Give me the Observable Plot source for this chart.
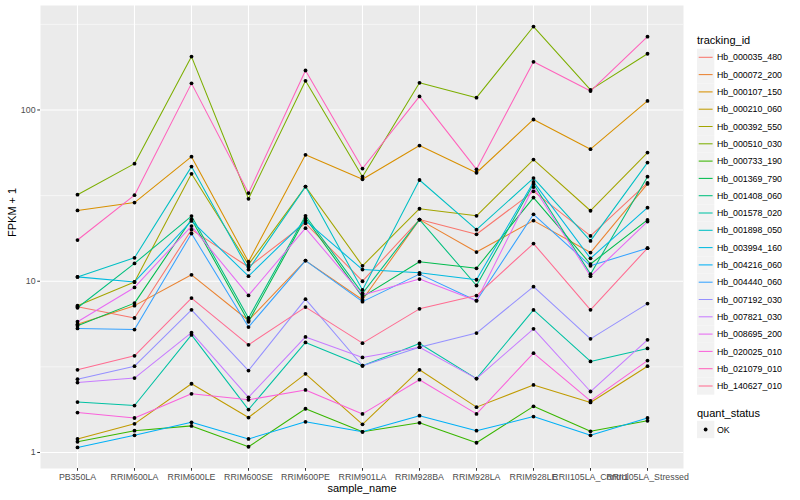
<!DOCTYPE html>
<html><head><meta charset="utf-8">
<script src="https://cdn.jsdelivr.net/npm/d3@7"></script>
<script src="https://cdn.jsdelivr.net/npm/@observablehq/plot@0.6"></script>
<style>
body{margin:0;background:#fff;font-family:"Liberation Sans",Arial,sans-serif;}
#wrap{position:relative;width:800px;height:500px;overflow:hidden;}
#wrap svg{display:block;}
</style></head><body><div id="wrap"></div>
<script>
const samples = ["PB350LA","RRIM600LA","RRIM600LE","RRIM600SE","RRIM600PE","RRIM901LA","RRIM928BA","RRIM928LA","RRIM928LE","RRII105LA_Control","RRII105LA_Stressed"];
const trackingIds = ["Hb_000035_480","Hb_000072_200","Hb_000107_150","Hb_000210_060","Hb_000392_550","Hb_000510_030","Hb_000733_190","Hb_001369_790","Hb_001408_060","Hb_001578_020","Hb_001898_050","Hb_003994_160","Hb_004216_060","Hb_004440_060","Hb_007192_030","Hb_007821_030","Hb_008695_200","Hb_020025_010","Hb_021079_010","Hb_140627_010"];
const palette = ["#F8766D","#EA8331","#D89000","#C09B00","#A3A500","#7CAE00","#39B600","#00BB4E","#00BF7D","#00C1A3","#00BFC4","#00BAE0","#00B0F6","#35A2FF","#9590FF","#C77CFF","#E76BF3","#FA62DB","#FF62BC","#FF6C91"];
const yTicks = [1, 10, 100];
const yMinorTicks = [3.1623, 31.623, 316.23];
const quantStatus = ["OK"];

// FPKM + 1 per sample (order of `samples`)
const Hb_000035_480 = [7.1, 6.1, 20, 12.1, 21.8, 10.0, 22.9, 18.8, 33.5, 18.4, 37.5];
const Hb_000072_200 = [5.6, 7.2, 10.9, 5.9, 13.2, 7.8, 22.9, 14.8, 22.6, 14.7, 37];
const Hb_000107_150 = [25.9, 28.8, 53.4, 13.0, 54.7, 39.4, 62, 43, 88, 59, 113];
const Hb_000210_060 = [1.20, 1.47, 2.52, 1.60, 2.88, 1.46, 3.04, 1.84, 2.48, 1.96, 3.19];
const Hb_000392_550 = [7.2, 9.9, 42.4, 12.5, 35.7, 12.3, 26.5, 24.1, 51.3, 25.8, 56.4];
const Hb_000510_030 = [32, 48.6, 205, 30.3, 148, 40.8, 144, 118, 307, 131, 213];
const Hb_000733_190 = [1.155, 1.34, 1.43, 1.08, 1.80, 1.32, 1.49, 1.14, 1.86, 1.33, 1.53];
const Hb_001369_790 = [5.5, 7.45, 23, 5.8, 23.4, 8.1, 13.0, 11.9, 30.8, 12.6, 22.8];
const Hb_001408_060 = [7.0, 12.7, 24, 6.1, 24.1, 8.5, 22.9, 9.44, 37, 11.0, 40.8];
const Hb_001578_020 = [1.97, 1.88, 4.86, 1.78, 4.39, 3.21, 4.33, 2.7, 6.8, 3.40, 4.05];
const Hb_001898_050 = [10.6, 13.7, 46.7, 11.7, 35.7, 8.9, 39, 20, 40, 17.2, 49.3];
const Hb_003994_160 = [10.6, 9.9, 22.5, 10.7, 22.6, 11.7, 11.2, 10.2, 38, 13.6, 26.9];
const Hb_004216_060 = [1.07, 1.26, 1.50, 1.20, 1.51, 1.32, 1.64, 1.34, 1.62, 1.26, 1.59];
const Hb_004440_060 = [5.3, 5.22, 19, 5.4, 13.2, 7.6, 11.0, 7.7, 24.6, 12.3, 15.6];
const Hb_007192_030 = [2.68, 3.19, 6.81, 3.01, 7.86, 3.21, 4.12, 4.98, 9.3, 4.61, 7.4];
const Hb_007821_030 = [2.56, 2.72, 5.01, 2.1, 4.73, 3.59, 4.12, 2.7, 5.27, 2.27, 4.55];
const Hb_008695_200 = [5.8, 9.2, 21, 8.26, 20.4, 8.3, 10.3, 7.7, 35.5, 10.7, 22.3];
const Hb_020025_010 = [1.71, 1.59, 2.2, 2.03, 2.32, 1.68, 2.66, 1.68, 3.80, 2.0, 3.44];
const Hb_021079_010 = [17.4, 31.8, 143, 32.7, 170, 45.5, 120, 45, 191, 129, 268];
const Hb_140627_010 = [3.04, 3.67, 7.97, 4.25, 7.06, 4.35, 6.9, 8.25, 16.6, 6.81, 15.6];

const seriesValues = [Hb_000035_480, Hb_000072_200, Hb_000107_150, Hb_000210_060, Hb_000392_550, Hb_000510_030, Hb_000733_190, Hb_001369_790, Hb_001408_060, Hb_001578_020, Hb_001898_050, Hb_003994_160, Hb_004216_060, Hb_004440_060, Hb_007192_030, Hb_007821_030, Hb_008695_200, Hb_020025_010, Hb_021079_010, Hb_140627_010];

const rows = trackingIds.flatMap((id, i) => samples.map((s, j) => ({tracking_id: id, sample_name: s, fpkm: seriesValues[i][j], quant_status: "OK"})));

const lext = d3.extent(rows, d => Math.log10(d.fpkm));
const lpad = (lext[1] - lext[0]) * 0.05;
const yDomain = [10 ** (lext[0] - lpad), 10 ** (lext[1] + lpad)];

const font = "'Liberation Sans', Arial, sans-serif";

const chart = Plot.plot({
  width: 800, height: 500,
  marginLeft: 40, marginRight: 117, marginTop: 5, marginBottom: 32,
  style: {fontFamily: font, fontSize: "8.8px", color: "#4D4D4D", background: "transparent", overflow: "visible"},
  x: {type: "point", domain: samples, padding: 0.6},
  y: {type: "log", domain: yDomain},
  color: {domain: trackingIds, range: palette},
  marks: [
    Plot.frame({fill: "#EBEBEB", stroke: null}),
    Plot.ruleY(yMinorTicks, {stroke: "#fff", strokeWidth: 0.55}),
    Plot.ruleY(yTicks, {stroke: "#fff", strokeWidth: 1.1}),
    Plot.ruleX(samples, {stroke: "#fff", strokeWidth: 1.1}),
    Plot.line(rows, {x: "sample_name", y: "fpkm", z: "tracking_id", stroke: "tracking_id", strokeWidth: 1.05}),
    Plot.dot(rows, {x: "sample_name", y: "fpkm", fill: "black", r: 1.9}),
    Plot.axisX({tickSize: 2.75, tickPadding: 2.2, label: null, stroke: "#333"}),
    Plot.axisY({ticks: yTicks, tickFormat: d => String(d), tickSize: 2.75, tickPadding: 2.2, label: null, stroke: "#333"}),
    Plot.text(["sample_name"], {frameAnchor: "bottom", dy: 23, fontSize: 11, fill: "black"}),
    Plot.text(["FPKM + 1"], {frameAnchor: "left", dx: -28, rotate: -90, fontSize: 11, fill: "black"})
  ]
});
const wrap = document.getElementById("wrap");
wrap.appendChild(chart);

// legend (right side, ggplot style)
const leg = d3.select(wrap).append("svg")
  .attr("width", 800).attr("height", 500)
  .style("position", "absolute").style("left", "0px").style("top", "0px")
  .style("font-family", font);
const lx = 697, step = 17.3, y0 = 57.3;
leg.append("text").attr("x", lx).attr("y", 44).attr("font-size", 11).attr("fill", "black").text("tracking_id");
trackingIds.forEach((id, i) => {
  const cy = y0 + i * step;
  leg.append("rect").attr("x", lx).attr("y", cy - step / 2).attr("width", step).attr("height", step).attr("fill", "#F2F2F2");
  leg.append("line").attr("x1", lx + 1.7).attr("x2", lx + step - 1.7).attr("y1", cy).attr("y2", cy).attr("stroke", palette[i]).attr("stroke-width", 1.05);
  leg.append("text").attr("x", lx + step + 2.6).attr("y", cy + 3.1).attr("font-size", 8.8).attr("fill", "black").text(id);
});
const qy = 412.7;
leg.append("text").attr("x", lx).attr("y", qy + 4).attr("font-size", 11).attr("fill", "black").text("quant_status");
quantStatus.forEach((q, i) => {
  const cy = qy + 16.8 + i * step;
  leg.append("rect").attr("x", lx).attr("y", cy - step / 2).attr("width", step).attr("height", step).attr("fill", "#F2F2F2");
  leg.append("circle").attr("cx", lx + step / 2).attr("cy", cy).attr("r", 1.9).attr("fill", "black");
  leg.append("text").attr("x", lx + step + 2.6).attr("y", cy + 3.1).attr("font-size", 8.8).attr("fill", "black").text(q);
});
</script></body></html>
